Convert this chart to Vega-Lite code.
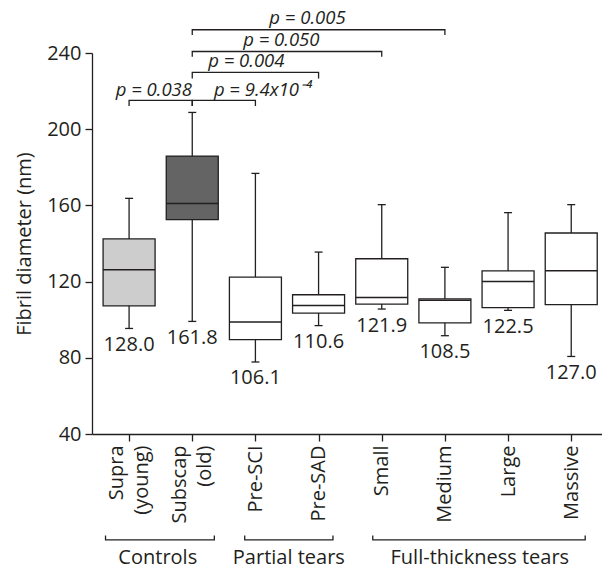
{
  "$schema": "https://vega.github.io/schema/vega-lite/v6.json",
  "width": 510,
  "height": 381,
  "autosize": {"type": "none"},
  "padding": {"left": 92, "top": 53, "right": 0, "bottom": 135},
  "background": "white",
  "config": {"view": {"stroke": null}, "font": "Open Sans"},
  "datasets": {
    "boxes": [
      {"name": "Supra (young)", "pos": 0, "lower": 95.4, "q1": 107.3, "median": 126.2, "q3": 142.4, "upper": 163.7, "label": "128.0"},
      {"name": "Subscap (old)", "pos": 1, "lower": 99.1, "q1": 152.5, "median": 161.0, "q3": 185.9, "upper": 208.8, "label": "161.8"},
      {"name": "Pre-SCI", "pos": 2, "lower": 77.8, "q1": 89.5, "median": 98.8, "q3": 122.4, "upper": 176.8, "label": "106.1"},
      {"name": "Pre-SAD", "pos": 3, "lower": 96.9, "q1": 103.5, "median": 107.5, "q3": 113.1, "upper": 135.5, "label": "110.6"},
      {"name": "Small", "pos": 4, "lower": 105.6, "q1": 108.2, "median": 111.7, "q3": 132.0, "upper": 160.4, "label": "121.9"},
      {"name": "Medium", "pos": 5, "lower": 91.6, "q1": 98.3, "median": 110.2, "q3": 110.9, "upper": 127.5, "label": "108.5"},
      {"name": "Large", "pos": 6, "lower": 104.9, "q1": 106.3, "median": 120.1, "q3": 125.6, "upper": 156.2, "label": "122.5"},
      {"name": "Massive", "pos": 7, "lower": 80.7, "q1": 107.9, "median": 125.7, "q3": 145.5, "upper": 160.4, "label": "127.0"}
    ],
    "brackets": [
      {"bid": "a", "k": 1, "pos": 0, "val": 212.2},
      {"bid": "a", "k": 2, "pos": 0, "val": 215.1},
      {"bid": "a", "k": 3, "pos": 1, "val": 215.1},
      {"bid": "a", "k": 4, "pos": 1, "val": 212.2},
      {"bid": "b", "k": 1, "pos": 1, "val": 212.2},
      {"bid": "b", "k": 2, "pos": 1, "val": 215.1},
      {"bid": "b", "k": 3, "pos": 2, "val": 215.1},
      {"bid": "b", "k": 4, "pos": 2, "val": 212.2},
      {"bid": "c", "k": 1, "pos": 1, "val": 226.6},
      {"bid": "c", "k": 2, "pos": 1, "val": 229.8},
      {"bid": "c", "k": 3, "pos": 3, "val": 229.8},
      {"bid": "c", "k": 4, "pos": 3, "val": 226.6},
      {"bid": "d", "k": 1, "pos": 1, "val": 238.0},
      {"bid": "d", "k": 2, "pos": 1, "val": 240.8},
      {"bid": "d", "k": 3, "pos": 4, "val": 240.8},
      {"bid": "d", "k": 4, "pos": 4, "val": 238.0},
      {"bid": "e", "k": 1, "pos": 1, "val": 249.4},
      {"bid": "e", "k": 2, "pos": 1, "val": 252.2},
      {"bid": "e", "k": 3, "pos": 5, "val": 252.2},
      {"bid": "e", "k": 4, "pos": 5, "val": 249.4}
    ],
    "ptext": [
      {"t": "p = 0.038", "pos": 0.392, "val": 217.6},
      {"t": "p = 9.4x10⁻⁴", "pos": 2.115, "val": 217.6},
      {"t": "p = 0.004", "pos": 1.856, "val": 232.7},
      {"t": "p = 0.050", "pos": 2.41, "val": 243.5},
      {"t": "p = 0.005", "pos": 2.824, "val": 255.4}
    ],
    "gbrackets": [
      {"bid": "Controls", "k": 1, "pos": -0.373, "val": -13.3},
      {"bid": "Controls", "k": 2, "pos": -0.373, "val": -15.6},
      {"bid": "Controls", "k": 3, "pos": 1.35, "val": -15.6},
      {"bid": "Controls", "k": 4, "pos": 1.35, "val": -13.3},
      {"bid": "Partial", "k": 1, "pos": 1.831, "val": -13.3},
      {"bid": "Partial", "k": 2, "pos": 1.831, "val": -15.6},
      {"bid": "Partial", "k": 3, "pos": 3.228, "val": -15.6},
      {"bid": "Partial", "k": 4, "pos": 3.228, "val": -13.3},
      {"bid": "Full", "k": 1, "pos": 3.858, "val": -13.3},
      {"bid": "Full", "k": 2, "pos": 3.858, "val": -15.6},
      {"bid": "Full", "k": 3, "pos": 7.221, "val": -15.6},
      {"bid": "Full", "k": 4, "pos": 7.221, "val": -13.3}
    ],
    "groups": [
      {"g": "Controls", "pos": 0.454, "val": -28.4},
      {"g": "Partial tears", "pos": 2.529, "val": -28.4},
      {"g": "Full-thickness tears", "pos": 5.553, "val": -28.4}
    ]
  },
  "layer": [
    {
      "data": {"name": "boxes"},
      "mark": {"type": "rule", "color": "#231f20", "strokeWidth": 1.3},
      "encoding": {
        "x": {
          "field": "pos", "type": "quantitative",
          "scale": {"domain": [-0.508, 7.408], "nice": false, "zero": false},
          "axis": {
            "values": [0, 1, 2, 3, 4, 5, 6, 7],
            "labelExpr": "datum.value == 0 ? ['Supra', '(young)'] : datum.value == 1 ? ['Subscap', '(old)'] : datum.value == 2 ? 'Pre-SCI' : datum.value == 3 ? 'Pre-SAD' : datum.value == 4 ? 'Small' : datum.value == 5 ? 'Medium' : datum.value == 6 ? 'Large' : 'Massive'",
            "labelAngle": 270, "labelAlign": "right", "labelBaseline": "middle",
            "labelOffset": {"condition": {"test": "datum.value <= 1", "value": -12.5}, "value": 0},
            "labelFontSize": 20, "labelLineHeight": 25, "labelPadding": 4,
            "labelColor": "#231f20", "labelFlush": false, "labelOverlap": false,
            "tickSize": 7, "tickWidth": 1.3, "tickColor": "#231f20",
            "domainColor": "#231f20", "domainWidth": 1.3,
            "grid": false, "title": null
          }
        },
        "y": {
          "field": "lower", "type": "quantitative",
          "scale": {"domain": [40, 240], "nice": false, "zero": false},
          "title": "Fibril diameter (nm)",
          "axis": {
            "values": [40, 80, 120, 160, 200, 240],
            "labelFontSize": 20, "labelPadding": 4, "labelColor": "#231f20", "labelFlush": false,
            "tickSize": 7, "tickWidth": 1.3, "tickColor": "#231f20",
            "domainColor": "#231f20", "domainWidth": 1.3, "grid": false,
            "titleFontSize": 20, "titleFontWeight": "normal",
            "titleColor": "#231f20", "titlePadding": 12
          }
        },
        "y2": {"field": "upper"}
      }
    },
    {
      "data": {"name": "boxes"},
      "mark": {"type": "bar", "width": 52, "stroke": "#231f20", "strokeWidth": 1.3},
      "encoding": {
        "x": {"field": "pos", "type": "quantitative"},
        "y": {"field": "q1", "type": "quantitative", "title": "Fibril diameter (nm)"},
        "y2": {"field": "q3"},
        "color": {
          "field": "name", "type": "nominal", "legend": null,
          "scale": {
            "domain": ["Supra (young)", "Subscap (old)", "Pre-SCI", "Pre-SAD", "Small", "Medium", "Large", "Massive"],
            "range": ["#cdcdcd", "#646464", "#ffffff", "#ffffff", "#ffffff", "#ffffff", "#ffffff", "#ffffff"]
          }
        }
      }
    },
    {
      "data": {"name": "boxes"},
      "mark": {"type": "tick", "orient": "horizontal", "size": 52, "thickness": 1.5, "color": "#231f20", "opacity": 1},
      "encoding": {
        "x": {"field": "pos", "type": "quantitative"},
        "y": {"field": "median", "type": "quantitative", "title": "Fibril diameter (nm)"}
      }
    },
    {
      "data": {"name": "boxes"},
      "mark": {"type": "tick", "orient": "horizontal", "size": 8, "thickness": 1.3, "color": "#231f20", "opacity": 1},
      "encoding": {
        "x": {"field": "pos", "type": "quantitative"},
        "y": {"field": "upper", "type": "quantitative", "title": "Fibril diameter (nm)"}
      }
    },
    {
      "data": {"name": "boxes"},
      "mark": {"type": "tick", "orient": "horizontal", "size": 8, "thickness": 1.3, "color": "#231f20", "opacity": 1},
      "encoding": {
        "x": {"field": "pos", "type": "quantitative"},
        "y": {"field": "lower", "type": "quantitative", "title": "Fibril diameter (nm)"}
      }
    },
    {
      "data": {"name": "boxes"},
      "mark": {"type": "text", "baseline": "top", "align": "center", "dy": 6.5, "fontSize": 20, "color": "#231f20"},
      "encoding": {
        "x": {"field": "pos", "type": "quantitative"},
        "y": {"field": "lower", "type": "quantitative", "title": "Fibril diameter (nm)"},
        "text": {"field": "label"}
      }
    },
    {
      "data": {"name": "brackets"},
      "mark": {"type": "line", "color": "#231f20", "strokeWidth": 1.3},
      "encoding": {
        "x": {"field": "pos", "type": "quantitative"},
        "y": {"field": "val", "type": "quantitative", "title": "Fibril diameter (nm)"},
        "detail": {"field": "bid"},
        "order": {"field": "k"}
      }
    },
    {
      "data": {"name": "ptext"},
      "mark": {"type": "text", "fontStyle": "italic", "fontSize": 18.5, "align": "center", "baseline": "alphabetic", "color": "#231f20"},
      "encoding": {
        "x": {"field": "pos", "type": "quantitative"},
        "y": {"field": "val", "type": "quantitative", "title": "Fibril diameter (nm)"},
        "text": {"field": "t"}
      }
    },
    {
      "data": {"name": "gbrackets"},
      "mark": {"type": "line", "color": "#231f20", "strokeWidth": 1.3},
      "encoding": {
        "x": {"field": "pos", "type": "quantitative"},
        "y": {"field": "val", "type": "quantitative", "title": "Fibril diameter (nm)"},
        "detail": {"field": "bid"},
        "order": {"field": "k"}
      }
    },
    {
      "data": {"name": "groups"},
      "mark": {"type": "text", "fontSize": 20, "align": "center", "baseline": "alphabetic", "color": "#231f20"},
      "encoding": {
        "x": {"field": "pos", "type": "quantitative"},
        "y": {"field": "val", "type": "quantitative", "title": "Fibril diameter (nm)"},
        "text": {"field": "g"}
      }
    }
  ]
}
